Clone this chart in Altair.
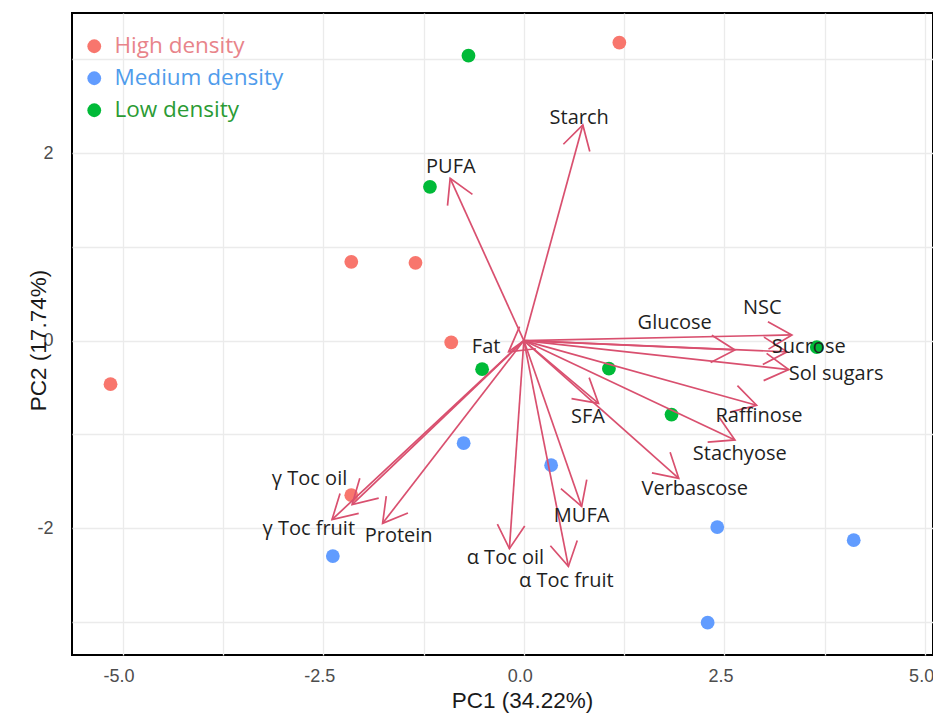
import math
import altair as alt
import pandas as pd

# ---------------- data ----------------
groups = (["High density"] * 6) + (["Medium density"] * 6) + (["Low density"] * 6)
pc1 = [1.19, -2.15, -1.35, -0.905, -5.15, -2.15,
       -0.75, 0.34, 2.41, 4.11, 2.29, -2.38,
       -0.69, -1.17, -0.52, 1.06, 1.84, 3.65]
pc2 = [3.18, 0.84, 0.83, -0.02, -0.465, -1.65,
       -1.095, -1.33, -1.99, -2.13, -3.01, -2.30,
       3.04, 1.64, -0.305, -0.30, -0.79, -0.07]

group_order = ["High density", "Medium density", "Low density"]
group_colors = ["#F8766D", "#619CFF", "#00BA38"]
legend_text_colors = ["#E8848A", "#4F9CEB", "#2B9B34"]

variables = ["Starch", "PUFA", "Fat", "Glucose", "NSC", "Sucrose", "Sol sugars",
             "Raffinose", "Stachyose", "Verbascose", "SFA", "MUFA",
             "\u03b1 Toc fruit", "\u03b1 Toc oil", "Protein",
             "\u03b3 Toc oil", "\u03b3 Toc fruit"]
load_x = [0.735, -0.918, -0.19, 2.63, 3.34, 3.28, 3.30, 2.90, 2.63, 1.93,
          0.93, 0.72, 0.555, -0.18, -1.76, -2.14, -2.39]
load_y = [2.30, 1.73, -0.12, -0.10, 0.06, -0.12, -0.31, -0.69, -1.06, -1.47,
          -0.67, -1.77, -2.41, -2.22, -1.95, -1.75, -1.91]
label_x = [0.69, -0.91, -0.47, 1.88, 2.97, 3.55, 3.89, 2.93, 2.69, 2.13,
           0.80, 0.72, 0.53, -0.23, -1.56, -2.67, -2.68]
label_y = [2.37, 1.85, -0.07, 0.186, 0.345, -0.064, -0.36, -0.81, -1.21, -1.58,
           -0.82, -1.87, -2.57, -2.32, -2.09, -1.48, -2.01]

x_grid = [-5.0, -3.75, -2.5, -1.25, 0.0, 1.25, 2.5, 3.75, 5.0]
x_tick_values = [-5.0, -2.5, 0.0, 2.5, 5.0]
x_tick_labels = ["-5.0", "-2.5", "0.0", "2.5", "5.0"]
y_grid = [-3, -2, -1, 0, 1, 2, 3]
y_tick_values = [-2, 0, 2]
y_tick_labels = ["-2", "0", "2"]

x_title = "PC1 (34.22%)"
y_title = "PC2 (17.74%)"

# ---------------- layout ----------------
W, H = 861, 642
XDOM = [-5.63, 5.098]
YDOM = [-3.355, 3.495]
sx = W / (XDOM[1] - XDOM[0])
sy = H / (YDOM[1] - YDOM[0])

ARROW = "#D9506F"
TEXT = "#1f1f1f"

scores = pd.DataFrame({"PC1": pc1, "PC2": pc2, "Group": groups})
loads = pd.DataFrame({"var": variables, "x": load_x, "y": load_y,
                      "lx": label_x, "ly": label_y})
loads["x0"] = 0.0
loads["y0"] = 0.0
loads["ang"] = [math.degrees(math.atan2(a * sx, b * sy)) % 360
                for a, b in zip(load_x, load_y)]


def label_expr(vals, labs):
    e = "''"
    for v, l in reversed(list(zip(vals, labs))):
        e = f"datum.value == {v} ? '{l}' : ({e})"
    return e


xs = alt.Scale(domain=XDOM, nice=False, zero=False)
ys = alt.Scale(domain=YDOM, nice=False, zero=False)

xaxis = alt.Axis(values=x_grid, labelExpr=label_expr(x_tick_values, x_tick_labels),
                 title=x_title, ticks=False, domain=False, grid=True,
                 gridColor="#EBEBEB", gridWidth=1.3,
                 labelFont="Liberation Sans", labelFontSize=18, labelColor="#4D4D4D",
                 labelPadding=12, labelOffset=-4, labelFlush=False, labelOverlap=False,
                 titleFont="Liberation Sans", titleFontSize=22.5, titleColor="#1a1a1a",
                 titleFontWeight="normal", titleX=450, titleY=45,
                 titleBaseline="middle", titleAlign="center")
yaxis = alt.Axis(values=y_grid, labelExpr=label_expr(y_tick_values, y_tick_labels),
                 title=y_title, ticks=False, domain=False, grid=True,
                 gridColor="#EBEBEB", gridWidth=1.3,
                 labelFont="Liberation Sans", labelFontSize=18, labelColor="#4D4D4D",
                 labelPadding=19, labelFlush=False, labelOverlap=False,
                 titleFont="Liberation Sans", titleFontSize=22.5, titleColor="#1a1a1a",
                 titleFontWeight="normal", titleX=-34, titleY=327, titleAngle=270,
                 titleBaseline="middle", titleAlign="center")


def X(f):
    return alt.X(f, type="quantitative", scale=xs, axis=xaxis)


def Y(f):
    return alt.Y(f, type="quantitative", scale=ys, axis=yaxis)


lc_expr = "datum.label == '%s' ? '%s' : (datum.label == '%s' ? '%s' : '%s')" % (
    group_order[0], legend_text_colors[0], group_order[1], legend_text_colors[1],
    legend_text_colors[2])

points = alt.Chart(scores).mark_point(filled=True, opacity=1, size=190).encode(
    x=X("PC1"), y=Y("PC2"),
    color=alt.Color("Group:N", scale=alt.Scale(domain=group_order, range=group_colors),
                    legend=alt.Legend(orient="none", legendX=11, legendY=22, title=None,
                                      symbolType="circle", symbolSize=190,
                                      symbolStrokeWidth=0, symbolOpacity=1,
                                      labelFont="Open Sans", labelFontSize=22.5,
                                      labelOffset=9, labelLimit=400,
                                      rowPadding=9, padding=0,
                                      labelColor=alt.ExprRef(lc_expr))),
)

shafts = alt.Chart(loads).mark_rule(color=ARROW, strokeWidth=1.7).encode(
    x=X("x0"), y=Y("y0"), x2=alt.X2("x"), y2=alt.Y2("y"),
)

heads = alt.Chart(loads).mark_point(
    shape="M -0.5 0.866 L 0 0 L 0.5 0.866", filled=False, color=ARROW,
    strokeWidth=1.7, opacity=1, size=3000, strokeJoin="miter",
).encode(
    x=X("x"), y=Y("y"), angle=alt.Angle("ang:Q", scale=None),
)

labels = alt.Chart(loads).mark_text(
    font="Open Sans", fontSize=20, color=TEXT, align="center", baseline="middle",
).encode(
    x=X("lx"), y=Y("ly"), text="var:N",
)

chart = alt.layer(points, shafts, heads, labels).properties(
    width=W, height=H,
    autosize=alt.AutoSizeParams(type="none"),
    padding={"left": 64, "top": 5, "right": 0, "bottom": 59},
    background="white",
).configure_view(stroke="black", strokeWidth=2)

chart.save("out.html", embed_options={"renderer": "svg", "actions": False})
